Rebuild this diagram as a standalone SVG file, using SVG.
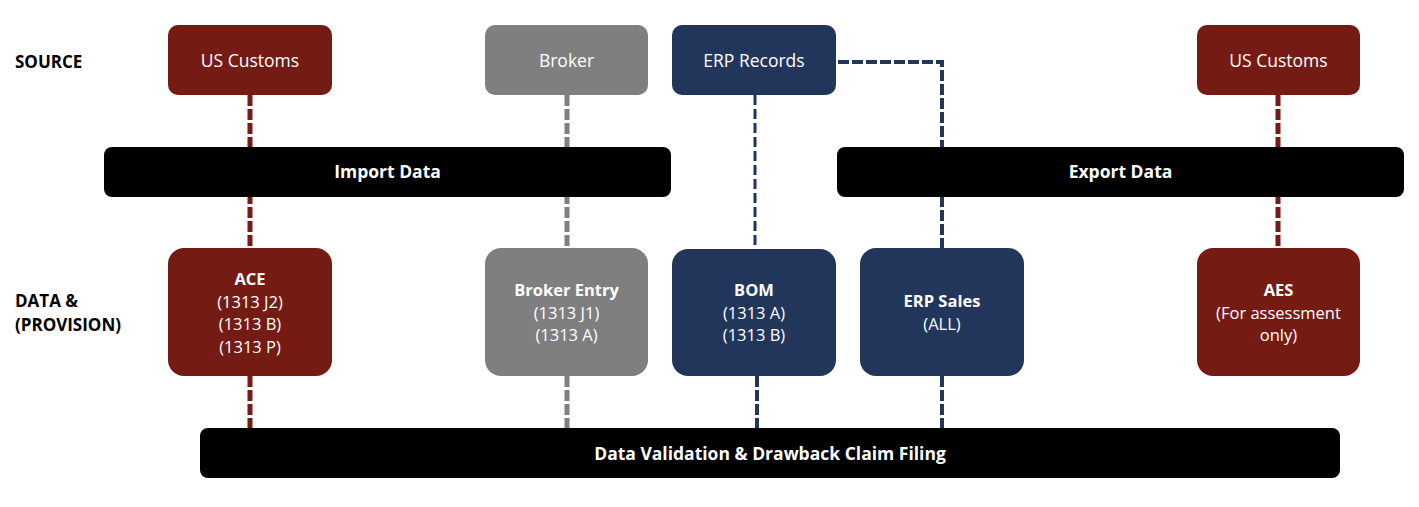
<svg xmlns="http://www.w3.org/2000/svg" width="1419" height="507" viewBox="0 0 1419 507">
<style>
text{font-family:"Open Sans","Noto Sans","Liberation Sans",sans-serif;}
.lbl{font-size:17px;font-weight:bold;fill:#000;}
.t{font-size:17.5px;fill:#fff;text-anchor:middle;}
.m{font-size:16.5px;}
.b{font-weight:bold;}
.red{fill:#741b14;}
.gray{fill:#7f7f7f;}
.navy{fill:#22365b;}
.bar{fill:#000;}
.c{fill:none;stroke-dasharray:11 3;}
.cr{stroke:#741b14;stroke-width:5;}
.cg{stroke:#7f7f7f;stroke-width:5;}
.cn{stroke:#22365b;stroke-width:4;}
.cn3{stroke:#22365b;stroke-width:3;stroke-dasharray:10 4;}
</style>
<rect width="1419" height="507" fill="#fff"/>
<g id="connectors">
<line class="c cr" x1="250" y1="95" x2="250" y2="248"/>
<line class="c cr" x1="250" y1="376" x2="250" y2="428"/>
<line class="c cg" x1="567" y1="95" x2="567" y2="248"/>
<line class="c cg" x1="567" y1="376" x2="567" y2="428"/>
<line class="c cn3" x1="755" y1="95" x2="755" y2="249"/>
<line class="c cn" x1="757" y1="376" x2="757" y2="428"/>
<polyline class="c cn" points="838,62 942,62 942,248"/>
<line class="c cn" x1="942" y1="376" x2="942" y2="428"/>
<line class="c cr" x1="1278" y1="95" x2="1278" y2="248"/>
</g>
<g id="label-source"><text class="lbl" x="15" y="68">SOURCE</text></g>
<g id="label-data"><text class="lbl" x="15" y="307">DATA &amp;<tspan x="15" dy="24">(PROVISION)</tspan></text></g>
<g id="import-data"><rect class="bar" x="104" y="147" width="567" height="50" rx="8"/><text class="t b" x="387.5" y="178">Import Data</text></g>
<g id="export-data"><rect class="bar" x="837" y="147" width="567" height="50" rx="8"/><text class="t b" x="1120.5" y="178">Export Data</text></g>
<g id="validation"><rect class="bar" x="200" y="428" width="1140" height="50" rx="8"/><text class="t b" x="770" y="460">Data Validation &amp; Drawback Claim Filing</text></g>
<g id="us-customs-1"><rect class="red" x="168" y="25" width="164" height="70" rx="10"/><text class="t" x="250" y="67">US Customs</text></g>
<g id="broker"><rect class="gray" x="485" y="25" width="163" height="70" rx="10"/><text class="t" x="566.5" y="67">Broker</text></g>
<g id="erp-records"><rect class="navy" x="672" y="25" width="164" height="70" rx="10"/><text class="t" x="754" y="67">ERP Records</text></g>
<g id="us-customs-2"><rect class="red" x="1197" y="25" width="163" height="70" rx="10"/><text class="t" x="1278.5" y="67">US Customs</text></g>
<g id="ace"><rect class="red" x="168" y="248" width="164" height="128" rx="16"/><text class="t m" x="250" y="285"><tspan class="b">ACE</tspan><tspan x="250" dy="22.5">(1313 J2)</tspan><tspan x="250" dy="22.5">(1313 B)</tspan><tspan x="250" dy="22.5">(1313 P)</tspan></text></g>
<g id="broker-entry"><rect class="gray" x="485" y="248" width="163" height="128" rx="16"/><text class="t m" x="566.5" y="296"><tspan class="b">Broker Entry</tspan><tspan x="566.5" dy="22.5">(1313 J1)</tspan><tspan x="566.5" dy="22.5">(1313 A)</tspan></text></g>
<g id="bom"><rect class="navy" x="672" y="249" width="164" height="127" rx="16"/><text class="t m" x="754" y="296"><tspan class="b">BOM</tspan><tspan x="754" dy="22.5">(1313 A)</tspan><tspan x="754" dy="22.5">(1313 B)</tspan></text></g>
<g id="erp-sales"><rect class="navy" x="860" y="248" width="164" height="128" rx="16"/><text class="t m" x="942" y="307"><tspan class="b">ERP Sales</tspan><tspan x="942" dy="22.5">(ALL)</tspan></text></g>
<g id="aes"><rect class="red" x="1197" y="248" width="163" height="128" rx="16"/><text class="t m" x="1278.5" y="296"><tspan class="b">AES</tspan><tspan x="1278.5" dy="22.5">(For assessment</tspan><tspan x="1278.5" dy="22.5">only)</tspan></text></g>
</svg>
